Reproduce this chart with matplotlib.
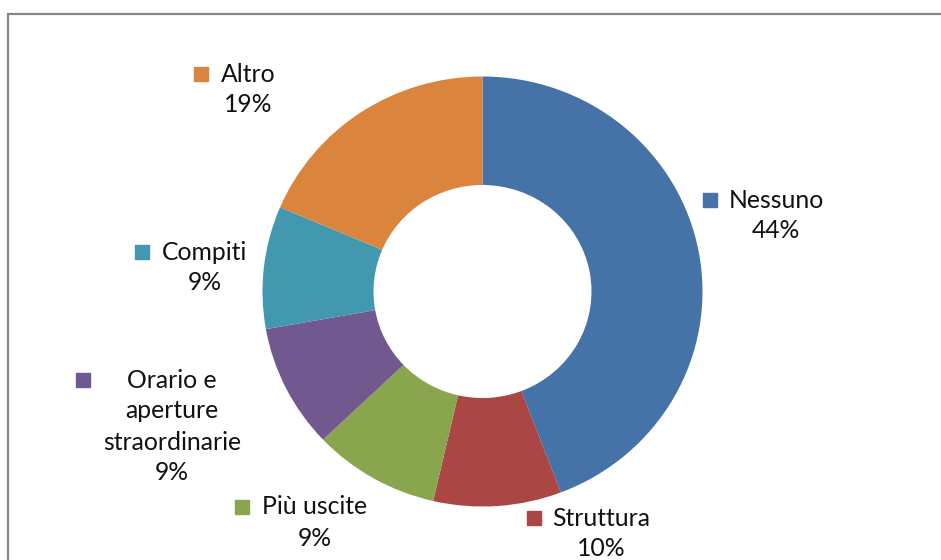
import matplotlib.pyplot as plt

labels = ["Nessuno", "Struttura", "Più uscite", "Orario e\naperture\nstraordinarie", "Compiti", "Altro"]
values = [44.2, 9.4, 9.3, 9.3, 9.2, 18.6]
pct_labels = ["44%", "10%", "9%", "9%", "9%", "19%"]
colors = ["#4572A7", "#AA4643", "#89A54E", "#71588F", "#4198AF", "#DB843D"]

# label block centre (x, first line y) and legend key x, in pixels from top-left
label_pos = [(776, 200, 710), (601, 518, 534), (315, 507, 242),
             (172, 380, 83), (205, 252, 142), (248, 74, 201)]

W, H = 941, 560
K = 220 / 215  # the original donut is slightly wider than tall

fig = plt.figure(figsize=(W / 100, H / 100), dpi=100)
ax = fig.add_axes([0, 0, 1, 1])


def py(y):
    return (H - y) * K


ax.pie(values, colors=colors, startangle=90, counterclock=False,
       center=(482.5, py(291.5)), radius=220, frame=True,
       wedgeprops=dict(width=111, linewidth=0))
ax.set_aspect("auto")
ax.set_xlim(0, W)
ax.set_ylim(0, H * K)
ax.axis("off")

# chart border (top and left visible)
ax.plot([8.5, 8.5, W], [0, py(13.5), py(13.5)], color="#868686", lw=1.6,
        solid_joinstyle="miter")

for lab, pct, col, (cx, y0, mx) in zip(labels, pct_labels, colors, label_pos):
    lines = lab.split("\n") + [pct]
    for i, line in enumerate(lines):
        ax.text(cx, py(y0 + i * 31), line, ha="center", va="center",
                fontsize=17.8, family=["Lato", "DejaVu Sans"], color="#111111")
    ax.plot(mx, py(y0), marker="s", markersize=9.5, color=col, mec=col)

fig.savefig("out.png", dpi=100)
